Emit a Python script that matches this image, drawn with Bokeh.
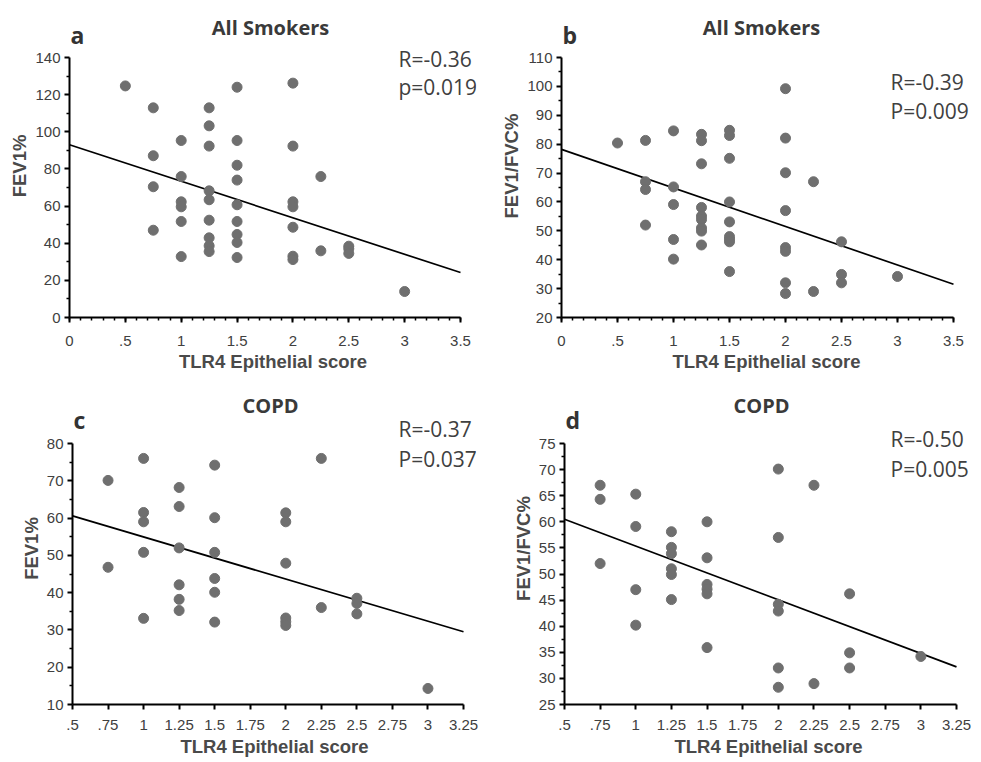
import numpy as np
from bokeh.plotting import figure
from bokeh.models import Label, FixedTicker, Range1d
from bokeh.layouts import row, column
from bokeh.embed import file_html
from bokeh.resources import INLINE

# ---------------- data ----------------
# Panel a: All smokers, FEV1%
xa = [0.5, 0.75, 0.75, 0.75, 0.75,
      1, 1, 1, 1, 1, 1,
      1.25, 1.25, 1.25, 1.25, 1.25, 1.25, 1.25, 1.25, 1.25,
      1.5, 1.5, 1.5, 1.5, 1.5, 1.5, 1.5, 1.5, 1.5,
      2, 2, 2, 2, 2, 2, 2,
      2.25, 2.25, 2.5, 2.5, 2.5, 3]
ya = [124.7, 112.9, 87.1, 70.4, 47.0,
      95.3, 75.9, 62.3, 59.6, 51.7, 32.8,
      112.9, 103.2, 92.3, 68.2, 63.4, 52.4, 42.9, 38.6, 35.5,
      124.0, 95.3, 82.0, 74.0, 60.7, 51.7, 44.7, 40.4, 32.3,
      126.2, 92.3, 62.3, 59.6, 48.6, 33.0, 31.2,
      75.9, 35.9, 38.4, 37.0, 34.5, 14.0]
fit_xa = [0, 3.5]
fit_ya = [93.0, 24.2]

# Panel b: All smokers, FEV1/FVC%
xb = [0.5, 0.75, 0.75, 0.75, 0.75,
      1, 1, 1, 1, 1,
      1.25, 1.25, 1.25, 1.25, 1.25, 1.25, 1.25, 1.25, 1.25,
      1.5, 1.5, 1.5, 1.5, 1.5, 1.5, 1.5, 1.5, 1.5,
      2, 2, 2, 2, 2, 2, 2, 2,
      2.25, 2.25, 2.5, 2.5, 2.5, 3]
yb = [80.4, 81.3, 67.0, 64.3, 52.0,
      84.6, 65.2, 59.1, 47.0, 40.2,
      83.4, 81.2, 73.2, 58.1, 55.1, 53.9, 51.0, 49.9, 45.1,
      84.8, 83.0, 75.1, 60.0, 53.1, 48.0, 47.1, 46.2, 35.9,
      99.2, 82.1, 70.1, 57.0, 44.2, 42.9, 32.0, 28.3,
      67.0, 29.0, 46.2, 34.9, 32.0, 34.2]
fit_xb = [0, 3.5]
fit_yb = [78.2, 31.5]

# Panel c: COPD, FEV1%
xc = [0.75, 0.75,
      1, 1, 1, 1, 1,
      1.25, 1.25, 1.25, 1.25, 1.25, 1.25,
      1.5, 1.5, 1.5, 1.5, 1.5, 1.5,
      2, 2, 2, 2, 2, 2,
      2.25, 2.25, 2.5, 2.5, 2.5, 3]
yc = [70.1, 46.8,
      76.0, 61.5, 59.0, 50.8, 33.1,
      68.2, 63.1, 52.0, 42.1, 38.2, 35.2,
      74.2, 60.1, 50.8, 43.8, 40.1, 32.1,
      61.4, 59.0, 47.9, 33.2, 32.2, 31.2,
      76.0, 36.0, 38.5, 37.1, 34.3, 14.3]
fit_xc = [0.5, 3.25]
fit_yc = [60.6, 29.5]

# Panel d: COPD, FEV1/FVC%
xd = [0.75, 0.75, 0.75,
      1, 1, 1, 1,
      1.25, 1.25, 1.25, 1.25, 1.25, 1.25,
      1.5, 1.5, 1.5, 1.5, 1.5, 1.5,
      2, 2, 2, 2, 2, 2,
      2.25, 2.25, 2.5, 2.5, 2.5, 3]
yd = [67.0, 64.3, 52.0,
      65.3, 59.1, 47.0, 40.2,
      58.1, 55.1, 53.9, 51.0, 49.9, 45.1,
      60.0, 53.1, 48.0, 47.1, 46.2, 35.9,
      70.1, 57.0, 44.2, 42.9, 32.0, 28.3,
      67.0, 29.0, 46.2, 34.9, 32.0, 34.2]
fit_xd = [0.5, 3.25]
fit_yd = [60.5, 32.2]

# tick values / labels
xticks_all = [0, 0.5, 1, 1.5, 2, 2.5, 3, 3.5]
xlabels_all = ["0", ".5", "1", "1.5", "2", "2.5", "3", "3.5"]
xticks_copd = [0.5, 0.75, 1, 1.25, 1.5, 1.75, 2, 2.25, 2.5, 2.75, 3, 3.25]
xlabels_copd = [".5", ".75", "1", "1.25", "1.5", "1.75", "2", "2.25", "2.5", "2.75", "3", "3.25"]
yticks_a = [0, 20, 40, 60, 80, 100, 120, 140]
yticks_b = [20, 30, 40, 50, 60, 70, 80, 90, 100, 110]
yticks_c = [10, 20, 30, 40, 50, 60, 70, 80]
yticks_d = [25, 30, 35, 40, 45, 50, 55, 60, 65, 70, 75]

titles = ["All Smokers", "All Smokers", "COPD", "COPD"]
letters = ["a", "b", "c", "d"]
ylabels = ["FEV1%", "FEV1/FVC%", "FEV1%", "FEV1/FVC%"]
xlabel = "TLR4 Epithelial score"
stats = [("R=-0.36", "p=0.019"), ("R=-0.39", "P=0.009"),
         ("R=-0.37", "P=0.037"), ("R=-0.50", "P=0.005")]

DOT = "#6f6f6f"
TICKC = "#404040"
LABC = "#4a4a4a"


def minor_between(ticks):
    return [(a + b) / 2.0 for a, b in zip(ticks[:-1], ticks[1:])]


def panel(xs, ys, fx, fy, xr, yr, xt, xl, xminor, yt, ylab, letter, title, st,
          geom, txt):
    # geom: axis-area width/height, extra frame width (right) / height (top), borders
    aw, ah, ew, eh, bl, br, bt, bb = geom
    fw, fh = aw + ew, ah + eh
    x_end = xr[0] + (xr[1] - xr[0]) * fw / aw
    y_end = yr[0] + (yr[1] - yr[0]) * fh / ah
    p = figure(frame_width=fw, frame_height=fh,
               min_border_left=bl, min_border_right=br,
               min_border_top=bt, min_border_bottom=bb,
               x_range=Range1d(xr[0], x_end), y_range=Range1d(yr[0], y_end),
               output_backend="svg", toolbar_location=None, tools="")
    p.outline_line_color = None
    p.xgrid.visible = False
    p.ygrid.visible = False
    p.background_fill_color = "white"
    p.border_fill_color = "white"

    p.line(fx, fy, line_color="black", line_width=1.7)
    p.scatter(xs, ys, size=10, fill_color=DOT, line_color=DOT)

    p.xaxis.ticker = FixedTicker(ticks=xt, minor_ticks=xminor)
    p.xaxis.major_label_overrides = {float(t): l for t, l in zip(xt, xl)}
    p.yaxis.ticker = FixedTicker(ticks=yt, minor_ticks=minor_between(yt))
    p.xaxis.bounds = (xr[0], xr[1])
    p.yaxis.bounds = (yr[0], yr[1])

    for ax in (p.xaxis[0], p.yaxis[0]):
        ax.axis_line_color = "black"
        ax.axis_line_width = 2
        ax.major_tick_line_color = "black"
        ax.major_tick_line_width = 2
        ax.minor_tick_line_color = "black"
        ax.minor_tick_line_width = 1.5
        ax.major_tick_in = 0
        ax.minor_tick_in = 0
        ax.major_label_text_font = "Liberation Sans"
        ax.major_label_text_font_size = "15px"
        ax.major_label_text_color = TICKC
        ax.axis_label_text_font = "Liberation Sans"
        ax.axis_label_text_font_style = "bold"
        ax.axis_label_text_font_size = "18.5px"
        ax.axis_label_text_color = LABC

    p.xaxis.major_tick_out = 5
    p.xaxis.minor_tick_out = 3
    p.yaxis.major_tick_out = 5
    p.yaxis.minor_tick_out = 3
    p.xaxis.axis_label = xlabel
    p.yaxis.axis_label = ylab
    p.xaxis.major_label_standoff = txt["xs"]
    p.xaxis.axis_label_standoff = txt["xls"]
    p.yaxis.major_label_standoff = 4
    p.yaxis.axis_label_standoff = txt["yls"]

    lx, ly, tx, ty, rx, ry1, ry2 = txt["pos"]
    p.add_layout(Label(x=lx, y=ly, x_units="screen", y_units="screen",
                       text=letter, text_font="Open Sans", text_font_style="bold",
                       text_font_size="23px", text_color="#333333",
                       text_align="left", text_baseline="alphabetic"))
    p.add_layout(Label(x=tx, y=ty, x_units="screen", y_units="screen",
                       text=title, text_font="Open Sans", text_font_style="bold",
                       text_font_size="20px", text_color="#3a3a3a",
                       text_align="center", text_baseline="alphabetic"))
    p.add_layout(Label(x=rx, y=ry1, x_units="screen", y_units="screen",
                       text=st[0], text_font="Open Sans",
                       text_font_size="21px", text_color="#404040",
                       text_align="left", text_baseline="alphabetic"))
    p.add_layout(Label(x=rx, y=ry2, x_units="screen", y_units="screen",
                       text=st[1], text_font="Open Sans",
                       text_font_size="21px", text_color="#404040",
                       text_align="left", text_baseline="alphabetic"))
    return p


minor_all = [round(v, 2) for v in np.arange(0, 3.501, 0.1)]

pa = panel(xa, ya, fit_xa, fit_ya, (0, 3.5), (0, 140), xticks_all, xlabels_all,
           minor_all, yticks_a, ylabels[0], letters[0], titles[0], stats[0],
           (391, 260, 16, 43, 69, 14, 14, 63),
           {"xs": 13, "xls": 2, "yls": 2,
            "pos": (1, 283, 201, 290, 329, 259, 231)})
pb = panel(xb, yb, fit_xb, fit_yb, (0, 3.5), (20, 110), xticks_all, xlabels_all,
           minor_all, yticks_b, ylabels[1], letters[1], titles[1], stats[1],
           (392, 260, 18, 43, 71, 8, 14, 63),
           {"xs": 13, "xls": 2, "yls": 2,
            "pos": (1, 283, 200, 290, 329, 236, 207)})
pc = panel(xc, yc, fit_xc, fit_yc, (0.5, 3.25), (10, 80), xticks_copd, xlabels_copd,
           [], yticks_c, ylabels[2], letters[2], titles[2], stats[2],
           (391, 261, 13, 51, 72, 14, 12, 57),
           {"xs": 10, "xls": 3, "yls": 2,
            "pos": (1, 285, 198, 299, 326, 276, 246)})
pd_ = panel(xd, yd, fit_xd, fit_yd, (0.5, 3.25), (25, 75), xticks_copd, xlabels_copd,
            [], yticks_d, ylabels[3], letters[3], titles[3], stats[3],
            (392, 261, 16, 51, 74, 8, 12, 57),
            {"xs": 10, "xls": 3, "yls": 2,
             "pos": (1, 285, 197, 299, 326, 266, 236)})

layout = column(row(pa, pb), row(pc, pd_))
open("out.html", "w").write(file_html(layout, INLINE))
